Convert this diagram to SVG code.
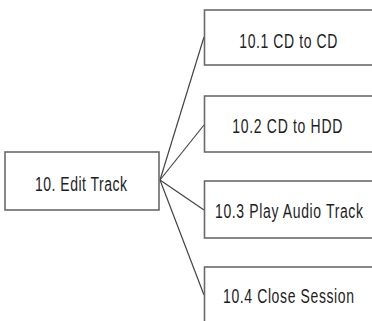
<svg xmlns="http://www.w3.org/2000/svg" width="372" height="321" viewBox="0 0 372 321">
<style>
.box{fill:#fff;stroke:#6a6a6a;stroke-width:1.6}
.lbl{font-family:"Liberation Sans",Arial,sans-serif;font-size:14px;fill:#1e1e1e}
.con{stroke:#444;stroke-width:1.2;fill:none}
</style>
<rect width="372" height="321" fill="#fff"/>
<g id="connectors">
<line class="con" x1="160" y1="180" x2="204" y2="37"/>
<line class="con" x1="160" y1="180" x2="204" y2="125"/>
<line class="con" x1="160" y1="180" x2="204" y2="210"/>
<line class="con" x1="160" y1="180" x2="204" y2="295"/>
</g>
<g id="n10">
<rect class="box" x="5" y="152" width="154" height="58"/>
<g transform="translate(35,190.7) scale(1,1.5)"><text class="lbl" x="0" y="0" textLength="92" lengthAdjust="spacing">10. Edit Track</text></g>
</g>
<g id="n10_1">
<rect class="box" x="204.5" y="10" width="200" height="55"/>
<g transform="translate(239.3,48.3) scale(1,1.5)"><text class="lbl" x="0" y="0" textLength="98" lengthAdjust="spacing">10.1 CD to CD</text></g>
</g>
<g id="n10_2">
<rect class="box" x="204.5" y="96" width="200" height="56"/>
<g transform="translate(232.3,132.5) scale(1,1.5)"><text class="lbl" x="0" y="0" textLength="110" lengthAdjust="spacing">10.2 CD to HDD</text></g>
</g>
<g id="n10_3">
<rect class="box" x="204.5" y="181" width="200" height="57"/>
<g transform="translate(215,218.3) scale(1,1.5)"><text class="lbl" x="0" y="0" textLength="148" lengthAdjust="spacing">10.3 Play Audio Track</text></g>
</g>
<g id="n10_4">
<rect class="box" x="204.5" y="267" width="200" height="100"/>
<g transform="translate(223,303) scale(1,1.5)"><text class="lbl" x="0" y="0" textLength="131" lengthAdjust="spacing">10.4 Close Session</text></g>
</g>
</svg>
